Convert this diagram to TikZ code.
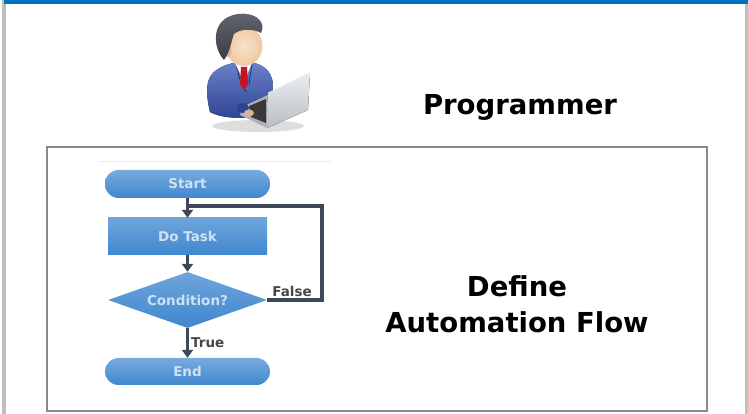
\documentclass[tikz,border=0pt]{standalone}
\usepackage{fontspec}
\setmainfont{DejaVu Sans}
\usetikzlibrary{arrows.meta,positioning,shapes.geometric,calc}

\definecolor{barblue}{HTML}{0070C0}
\definecolor{framegray}{HTML}{BFBFBF}
\definecolor{boxgray}{HTML}{8A8A8A}
\definecolor{flowblue}{HTML}{3F87CF}
\definecolor{flowdark}{HTML}{3E4858}
\definecolor{suitblue}{HTML}{2E4391}
\definecolor{suitlight}{HTML}{6A80C8}
\definecolor{skin}{HTML}{F0C9A0}
\definecolor{hair}{HTML}{3A3E48}
\definecolor{tiered}{HTML}{C8141E}
\definecolor{silver}{HTML}{DADEE5}

\begin{document}
\begin{tikzpicture}[
    x=1pt, y=-1pt,
    title/.style={font=\bfseries\fontsize{27.5}{36}\selectfont, align=center},
    shape text/.style={font=\bfseries\fontsize{13.5}{15}\selectfont, text=white!75!flowblue},
    term/.style={shape text, top color=flowblue!70!white, bottom color=flowblue, rounded corners=13.5pt, minimum width=165pt, minimum height=#1, inner sep=0pt},
    task/.style={shape text, top color=flowblue!75!white, bottom color=flowblue, minimum width=159pt, minimum height=37pt, inner sep=0pt},
    decision/.style={shape text, diamond, aspect=2.84, top color=flowblue!75!white, bottom color=flowblue, minimum width=159pt, minimum height=56pt, inner sep=0pt},
    lbl/.style={font=\bfseries\fontsize{13.5}{15}\selectfont, text=black!72, inner sep=1pt},
    flow/.style={line width=3.4pt, draw=flowdark},
    arrow/.style={flow, -{Triangle[length=8pt, width=11pt]}}
]
\useasboundingbox (0,0) rectangle (748,414);

% Page frame
\fill[framegray] (2,0) rectangle (6,414);
\fill[framegray] (745,4) rectangle (748,414);
\fill[barblue] (4,0) rectangle (748,4.5);

% Programmer clip art
\fill[black!22, opacity=0.6] (258,126) ellipse [x radius=46, y radius=6];
\fill[top color=suitlight, bottom color=suitblue]
    (210,112) .. controls (206,95) and (205,80) .. (214,72)
    .. controls (222,65) and (232,63) .. (240,62) -- (250,62)
    .. controls (262,64) and (272,70) .. (273,85)
    -- (272,110) .. controls (255,120) and (225,120) .. (210,112) -- cycle;
\draw[suitblue!70!black, line width=0.8pt] (236,64) -- (241,84) -- (246,92);
\draw[suitblue!70!black, line width=0.8pt] (252,64) -- (249,84);
\fill[white] (235,63) -- (252,63) -- (244,82) -- cycle;
\fill[tiered] (241,67) -- (247,67) -- (248,84) -- (244,90) -- (240,84) -- cycle;
\fill[skin!85!black] (238,54) rectangle (250,64);
\shade[inner color=skin!55!white, outer color=skin] (244,46) ellipse [x radius=18.5, y radius=20];
\fill[skin!92!black] (228,50) ellipse [x radius=3.5, y radius=7];
\shade[top color=hair!80!white, bottom color=hair]
    (224,60) .. controls (213,48) and (212,25) .. (228,17)
    .. controls (240,11) and (258,13) .. (262,24)
    .. controls (263,28) and (262,31) .. (261,33)
    .. controls (252,28) and (240,29) .. (234,34)
    .. controls (231,42) and (230,52) .. (224,60) -- cycle;
% laptop
\fill[silver!80!black] (268,95) -- (242,107) -- (240,115) -- (267,128) -- cycle;
\fill[black!78] (266,99) -- (249,106) -- (251,117) -- (266,123) -- cycle;
\fill[suitblue] (243,108) ellipse [x radius=6, y radius=5];
\fill[skin!90!black] (249,113) ellipse [x radius=5, y radius=3.5];
\fill[top color=silver!55!white, bottom color=silver!85!black]
    (268,93) -- (310,73) -- (308,110) -- (267,128) -- cycle;
\draw[white!70!silver, line width=0.6pt] (268,93) -- (310,73);

\node[title, anchor=base] (role) at (520,115) {Programmer};

% Flowchart panel
\draw[boxgray, line width=2.6pt] (47,147) rectangle (707,411);
\draw[black!7] (99,161) -- (332,161);

\node[term=28pt] (start) at (187.5,184) {Start};
\node[task] (dotask) at (187.5,236.5) {Do Task};
\node[decision] (cond) at (187.5,300) {Condition?};
\node[term=27pt] (stop) at (187.5,371.5) {End};

\coordinate (join) at (187.5,206);
\coordinate (loopturn) at (322,206);

\draw[arrow] (start) -- (dotask);
\draw[arrow] (dotask) -- (cond);
\draw[arrow] (cond) -- (stop) node[lbl, midway, right=1pt] (truelbl) {True};
\draw[flow] (cond.east) -| (loopturn) -- (join);
\node[lbl] (falselbl) at (292,291) {False};

\node[title] (define) at (517,304) {Define\\Automation Flow};

\end{tikzpicture}
\end{document}
